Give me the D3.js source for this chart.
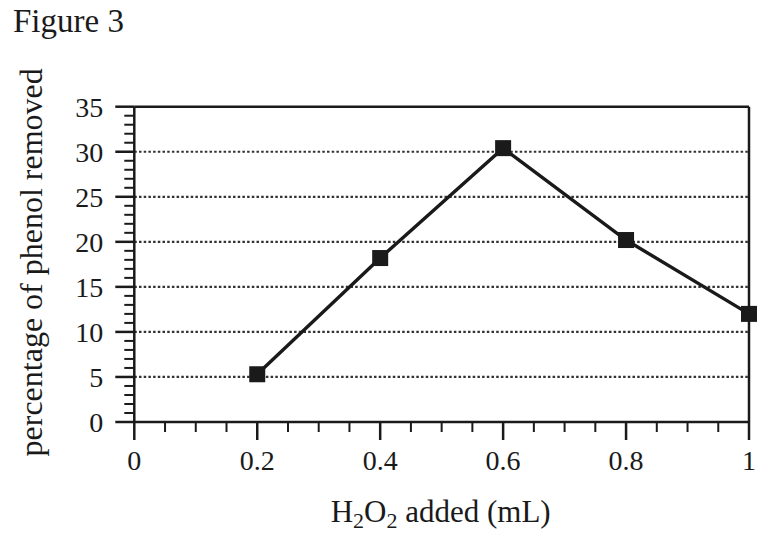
<!DOCTYPE html>
<html>
<head>
<meta charset="utf-8">
<script src="https://cdn.jsdelivr.net/npm/d3@7"></script>
<style>
  body { margin: 0; background: #fff; }
  text { font-family: "Liberation Serif", "Times New Roman", serif; fill: #1a1a1a; }
</style>
</head>
<body>
<div id="chart"></div>
<script>
// Data
const h2o2Added = [0.2, 0.4, 0.6, 0.8, 1.0];
const phenolRemoved = [5.3, 18.2, 30.4, 20.2, 12.0];
const xTickValues = [0, 0.2, 0.4, 0.6, 0.8, 1];
const xTickLabels = ["0", "0.2", "0.4", "0.6", "0.8", "1"];
const yTickValues = [0, 5, 10, 15, 20, 25, 30, 35];
const gridValues = [5, 10, 15, 20, 25, 30];

const W = 781, H = 540;
const margin = { top: 106.7, right: 32, bottom: 118, left: 134.3 };
const width = W - margin.left - margin.right;
const height = H - margin.top - margin.bottom;
const ink = "#1a1a1a";

const svg = d3.select("#chart")
    .append("svg")
    .attr("width", W)
    .attr("height", H);

// Title
svg.append("text").attr("x", 13).attr("y", 32).style("font-size", "33px").text("Figure 3");

const g = svg.append("g").attr("transform", `translate(${margin.left},${margin.top})`);

// Scales
const x = d3.scaleLinear().domain([0, 1]).range([0, width]);
const y = d3.scaleLinear().domain([0, 35]).range([height, 0]);

// Dotted gridlines
g.selectAll(".grid")
    .data(gridValues)
    .join("line")
    .attr("x1", 0).attr("x2", width)
    .attr("y1", d => y(d)).attr("y2", d => y(d))
    .attr("stroke", "#333")
    .attr("stroke-width", 2.2)
    .attr("stroke-dasharray", "2.5,2.2");

// Y axis: minor ticks every 1, major every 5
const yAxis = g.append("g");
yAxis.append("line").attr("x1", 0).attr("x2", 0).attr("y1", y(35)).attr("y2", y(0))
    .attr("stroke", ink).attr("stroke-width", 2.5);
yAxis.selectAll(".ymin")
    .data(d3.range(0, 36).filter(v => v % 5 !== 0))
    .join("line")
    .attr("x1", -10).attr("x2", 0)
    .attr("y1", d => y(d)).attr("y2", d => y(d))
    .attr("stroke", ink).attr("stroke-width", 2);
yAxis.selectAll(".ymaj")
    .data(yTickValues)
    .join("line")
    .attr("x1", -19).attr("x2", 0)
    .attr("y1", d => y(d)).attr("y2", d => y(d))
    .attr("stroke", ink).attr("stroke-width", 2.5);
yAxis.selectAll(".ylab")
    .data(yTickValues)
    .join("text")
    .attr("x", -31)
    .attr("y", d => y(d))
    .attr("dy", "0.35em")
    .attr("text-anchor", "end")
    .style("font-size", "28px")
    .text(d => d);

// Top border
g.append("line").attr("x1", 0).attr("x2", width).attr("y1", y(35)).attr("y2", y(35))
    .attr("stroke", ink).attr("stroke-width", 2.5);

// X axis: minor ticks every 0.05, major every 0.2
const xAxis = g.append("g").attr("transform", `translate(0,${height})`);
xAxis.append("line").attr("x1", 0).attr("x2", width).attr("y1", 0).attr("y2", 0)
    .attr("stroke", ink).attr("stroke-width", 2.5);
xAxis.selectAll(".xmin")
    .data(d3.range(1, 20).filter(i => i % 4 !== 0).map(i => i * 0.05))
    .join("line")
    .attr("x1", d => x(d)).attr("x2", d => x(d))
    .attr("y1", 0).attr("y2", 10)
    .attr("stroke", ink).attr("stroke-width", 2);
xAxis.selectAll(".xmaj")
    .data(xTickValues)
    .join("line")
    .attr("x1", d => x(d)).attr("x2", d => x(d))
    .attr("y1", 0).attr("y2", 18)
    .attr("stroke", ink).attr("stroke-width", 2.5);
xAxis.selectAll(".xlab")
    .data(xTickValues)
    .join("text")
    .attr("x", d => x(d))
    .attr("y", 48)
    .attr("text-anchor", "middle")
    .style("font-size", "28px")
    .text((d, i) => xTickLabels[i]);

// Right border (runs down into the major tick at 1)
g.append("line").attr("x1", x(1)).attr("x2", x(1)).attr("y1", y(35)).attr("y2", y(0))
    .attr("stroke", ink).attr("stroke-width", 2.5);

// Axis labels
const xl = svg.append("text")
    .attr("x", margin.left + width / 2 - 1)
    .attr("y", 522)
    .attr("text-anchor", "middle")
    .style("font-size", "31px");
xl.append("tspan").text("H");
xl.append("tspan").attr("dy", 6).style("font-size", "22px").text("2");
xl.append("tspan").attr("dy", -6).text("O");
xl.append("tspan").attr("dy", 6).style("font-size", "22px").text("2");
xl.append("tspan").attr("dy", -6).text(" added (mL)");

svg.append("text")
    .attr("transform", `translate(42,${margin.top + height / 2 - 2}) rotate(-90)`)
    .attr("text-anchor", "middle")
    .style("font-size", "32px")
    .text("percentage of phenol removed");

// Line and square markers
const pts = h2o2Added.map((v, i) => ({ x: v, y: phenolRemoved[i] }));
g.append("path")
    .datum(pts)
    .attr("fill", "none")
    .attr("stroke", ink)
    .attr("stroke-width", 3.4)
    .attr("d", d3.line().x(d => x(d.x)).y(d => y(d.y)));

g.selectAll(".pt")
    .data(pts)
    .join("rect")
    .attr("x", d => x(d.x) - 8)
    .attr("y", d => y(d.y) - 8)
    .attr("width", 16)
    .attr("height", 16)
    .attr("fill", ink);
</script>
</body>
</html>
